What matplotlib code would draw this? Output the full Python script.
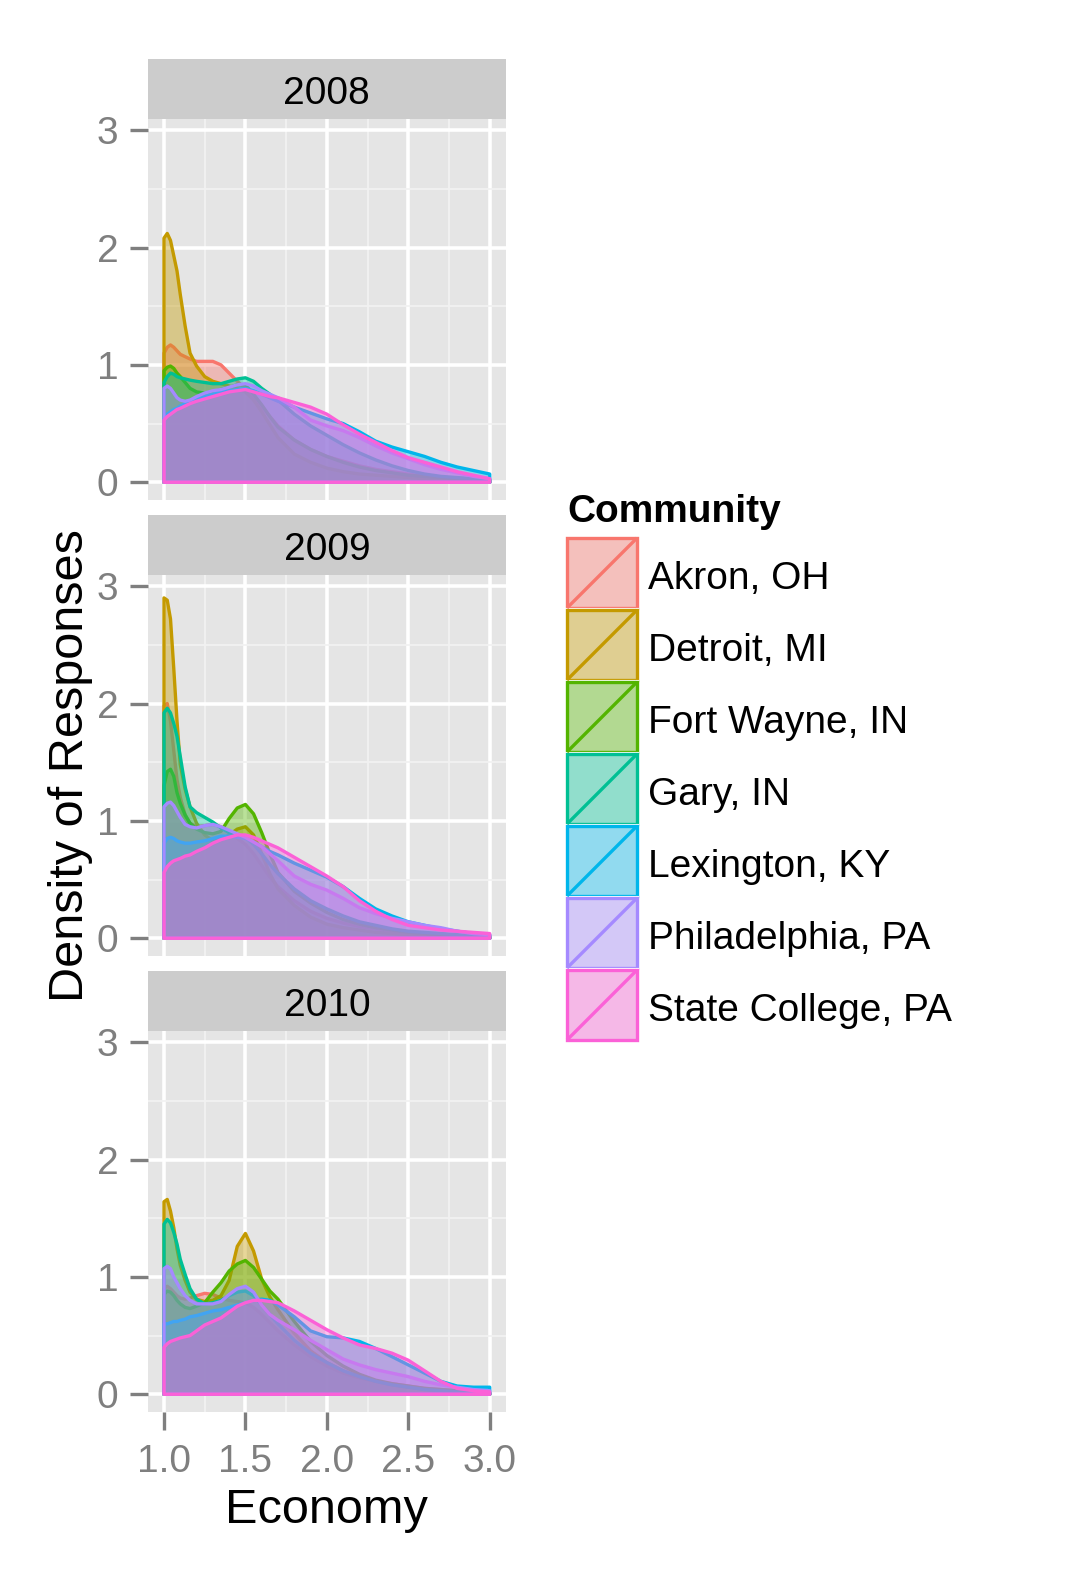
import numpy as np
import matplotlib
matplotlib.use("Agg")
import matplotlib.pyplot as plt
from matplotlib.colors import to_rgba
from matplotlib.patches import Rectangle
from matplotlib.ticker import MultipleLocator

plt.rcParams['font.family'] = ['Liberation Sans', 'DejaVu Sans']

# ---------------- data ----------------
years = ["2008", "2009", "2010"]
communities = ["Akron, OH", "Detroit, MI", "Fort Wayne, IN", "Gary, IN",
               "Lexington, KY", "Philadelphia, PA", "State College, PA"]
colors = ["#F8766D", "#C49A00", "#53B400", "#00C094", "#00B6EB", "#A58AFF", "#FB61D7"]

economy = [1.00, 1.02, 1.04, 1.06, 1.08, 1.10, 1.13, 1.16, 1.20, 1.25, 1.30, 1.35,
           1.40, 1.45, 1.50, 1.55, 1.60, 1.65, 1.70, 1.80, 1.90, 2.00, 2.10, 2.20,
           2.30, 2.40, 2.50, 2.60, 2.70, 2.80, 2.90, 3.00]

density_2008 = [
    [1.10,1.15,1.17,1.15,1.12,1.09,1.07,1.05,1.03,1.03,1.03,1.00,0.93,0.86,0.80,0.72,0.64,0.56,0.48,0.36,0.28,0.22,0.18,0.14,0.11,0.09,0.07,0.05,0.04,0.03,0.02,0.01],
    [2.08,2.12,2.06,1.93,1.80,1.60,1.33,1.10,0.99,0.90,0.86,0.84,0.82,0.80,0.77,0.70,0.60,0.49,0.38,0.24,0.17,0.12,0.09,0.07,0.06,0.05,0.04,0.03,0.02,0.02,0.01,0.01],
    [0.95,0.98,0.99,0.97,0.93,0.90,0.85,0.80,0.77,0.76,0.77,0.79,0.81,0.83,0.83,0.75,0.66,0.56,0.47,0.36,0.28,0.22,0.17,0.13,0.10,0.08,0.06,0.05,0.04,0.03,0.02,0.02],
    [0.85,0.90,0.93,0.92,0.90,0.89,0.88,0.87,0.86,0.85,0.84,0.84,0.86,0.88,0.89,0.86,0.80,0.75,0.70,0.58,0.48,0.40,0.32,0.25,0.19,0.14,0.10,0.07,0.05,0.04,0.03,0.02],
    [0.55,0.58,0.60,0.62,0.63,0.65,0.67,0.69,0.71,0.73,0.75,0.77,0.78,0.79,0.80,0.78,0.75,0.72,0.69,0.64,0.59,0.54,0.50,0.43,0.35,0.30,0.26,0.22,0.17,0.13,0.10,0.07],
    [0.80,0.82,0.80,0.76,0.72,0.70,0.69,0.70,0.73,0.76,0.78,0.79,0.81,0.83,0.84,0.82,0.78,0.75,0.72,0.64,0.53,0.48,0.44,0.38,0.31,0.25,0.20,0.15,0.11,0.08,0.05,0.03],
    [0.53,0.56,0.58,0.60,0.62,0.63,0.65,0.67,0.69,0.71,0.73,0.75,0.77,0.78,0.79,0.77,0.75,0.73,0.72,0.68,0.64,0.58,0.49,0.41,0.34,0.27,0.21,0.17,0.13,0.09,0.06,0.03],
]
density_2009 = [
    [1.98,2.00,1.85,1.60,1.35,1.20,1.05,0.98,0.95,0.96,0.97,0.95,0.90,0.85,0.80,0.72,0.62,0.52,0.44,0.32,0.23,0.17,0.13,0.10,0.08,0.06,0.05,0.04,0.03,0.02,0.02,0.01],
    [2.90,2.88,2.72,2.30,1.85,1.48,1.27,1.12,0.98,0.88,0.83,0.84,0.88,0.93,0.95,0.88,0.72,0.55,0.42,0.28,0.18,0.12,0.09,0.07,0.05,0.04,0.03,0.02,0.02,0.01,0.01,0.01],
    [1.30,1.42,1.44,1.38,1.24,1.15,1.05,0.98,0.93,0.90,0.89,0.91,1.02,1.11,1.14,1.06,0.90,0.72,0.56,0.40,0.30,0.22,0.16,0.12,0.09,0.07,0.05,0.04,0.03,0.02,0.02,0.01],
    [1.92,1.96,1.92,1.83,1.72,1.55,1.29,1.12,1.07,1.03,0.99,0.94,0.90,0.88,0.86,0.80,0.72,0.63,0.55,0.42,0.32,0.25,0.19,0.14,0.11,0.08,0.06,0.05,0.04,0.03,0.02,0.02],
    [0.81,0.85,0.86,0.85,0.83,0.82,0.81,0.81,0.82,0.83,0.85,0.87,0.87,0.86,0.85,0.82,0.78,0.74,0.71,0.64,0.58,0.52,0.44,0.34,0.25,0.19,0.14,0.11,0.08,0.06,0.04,0.03],
    [1.12,1.15,1.16,1.13,1.08,1.03,0.97,0.95,0.94,0.96,0.97,0.95,0.92,0.89,0.86,0.82,0.78,0.72,0.66,0.53,0.46,0.41,0.34,0.26,0.21,0.17,0.14,0.11,0.09,0.06,0.04,0.03],
    [0.56,0.61,0.64,0.66,0.67,0.68,0.70,0.71,0.74,0.77,0.81,0.84,0.86,0.88,0.88,0.86,0.83,0.80,0.77,0.69,0.61,0.53,0.44,0.32,0.23,0.16,0.11,0.09,0.07,0.06,0.05,0.04],
]
density_2010 = [
    [0.90,0.92,0.90,0.87,0.84,0.82,0.81,0.82,0.84,0.86,0.85,0.82,0.80,0.79,0.78,0.74,0.68,0.61,0.54,0.42,0.32,0.24,0.18,0.14,0.11,0.09,0.07,0.05,0.04,0.03,0.02,0.01],
    [1.64,1.66,1.56,1.42,1.24,1.10,0.97,0.87,0.81,0.79,0.80,0.84,0.97,1.26,1.37,1.22,0.98,0.83,0.72,0.52,0.37,0.27,0.20,0.15,0.11,0.08,0.06,0.04,0.03,0.02,0.02,0.01],
    [0.85,0.88,0.87,0.84,0.80,0.77,0.74,0.73,0.75,0.78,0.87,0.95,1.05,1.11,1.14,1.08,0.98,0.88,0.81,0.62,0.45,0.33,0.24,0.17,0.12,0.09,0.07,0.05,0.04,0.03,0.02,0.01],
    [1.45,1.49,1.46,1.38,1.28,1.15,1.02,0.90,0.81,0.77,0.78,0.80,0.84,0.87,0.88,0.84,0.76,0.68,0.60,0.46,0.35,0.27,0.20,0.15,0.11,0.08,0.06,0.04,0.03,0.02,0.02,0.01],
    [0.60,0.60,0.61,0.62,0.62,0.63,0.64,0.66,0.67,0.69,0.71,0.72,0.74,0.76,0.78,0.80,0.81,0.80,0.76,0.66,0.54,0.49,0.48,0.45,0.39,0.32,0.25,0.18,0.11,0.07,0.06,0.06],
    [1.07,1.09,1.07,1.00,0.95,0.90,0.84,0.80,0.77,0.77,0.77,0.79,0.85,0.90,0.92,0.87,0.76,0.68,0.63,0.55,0.46,0.38,0.30,0.25,0.21,0.18,0.15,0.11,0.08,0.06,0.04,0.03],
    [0.40,0.43,0.45,0.46,0.47,0.48,0.49,0.50,0.54,0.59,0.62,0.65,0.70,0.75,0.78,0.80,0.80,0.79,0.78,0.71,0.63,0.55,0.48,0.42,0.39,0.35,0.29,0.20,0.11,0.05,0.03,0.02],
]
densities = [density_2008, density_2009, density_2010]

x_ticks = [1.0, 1.5, 2.0, 2.5, 3.0]
x_tick_labels = ["1.0", "1.5", "2.0", "2.5", "3.0"]
y_ticks = [0, 1, 2, 3]

# ---------------- layout ----------------
W, H = 1080, 1569
fig = plt.figure(figsize=(W / 100, H / 100), dpi=100)
fig.patch.set_facecolor("white")

def fx(px):
    return px / W

def fy(px):
    return 1 - px / H

PL, PR = 147.7, 506.0
panel_tops = [119.0, 575.0, 1031.0]
PH = 380.5
SH = 60.0
TXT = 28
GREY_TXT = "#7F7F7F"

x = np.array(economy)
for i, (yr, dens) in enumerate(zip(years, densities)):
    top = panel_tops[i]
    ax = fig.add_axes([fx(PL), fy(top + PH), (PR - PL) / W, PH / H])
    ax.set_facecolor("#E5E5E5")
    ax.set_xlim(0.9, 3.1)
    ax.set_ylim(-0.147, 3.095)
    ax.set_axisbelow(True)
    ax.xaxis.set_major_locator(MultipleLocator(0.5))
    ax.xaxis.set_minor_locator(MultipleLocator(0.25))
    ax.yaxis.set_major_locator(MultipleLocator(1))
    ax.yaxis.set_minor_locator(MultipleLocator(0.5))
    ax.grid(which="major", color="white", lw=2.6)
    ax.grid(which="minor", color="#F2F2F2", lw=1.3)
    for s in ax.spines.values():
        s.set_visible(False)
    ax.set_yticks(y_ticks)
    ax.set_yticklabels([str(v) for v in y_ticks])
    ax.tick_params(axis="y", which="major", direction="out", length=13, width=2.4,
                   color=GREY_TXT, labelcolor=GREY_TXT, labelsize=TXT, pad=8)
    ax.tick_params(which="minor", length=0)
    if i == 2:
        ax.set_xticks(x_ticks)
        ax.set_xticklabels(x_tick_labels)
        ax.tick_params(axis="x", which="major", direction="out", length=13, width=2.4,
                       color=GREY_TXT, labelcolor=GREY_TXT, labelsize=TXT, pad=10.5)
    else:
        ax.tick_params(axis="x", which="major", length=0, labelbottom=False)

    for c, col, yv in zip(communities, colors, dens):
        xs = np.r_[x[0], x, x[-1]]
        ys = np.r_[0.0, np.array(yv), 0.0]
        ax.fill(xs, ys, facecolor=to_rgba(col, 0.4), edgecolor=col, lw=2.4,
                joinstyle="round", zorder=3)

    # strip
    sax = fig.add_axes([fx(PL), fy(top), (PR - PL) / W, SH / H])
    sax.set_facecolor("#CCCCCC")
    sax.set_xticks([]); sax.set_yticks([])
    for s in sax.spines.values():
        s.set_visible(False)
    sax.text(0.5, 0.41, yr, ha="center", va="center", fontsize=TXT, color="black",
             transform=sax.transAxes)

# axis titles
fig.text(fx((PL + PR) / 2), fy(1523), "Economy", ha="center", va="baseline",
         fontsize=35, color="black")
fig.text(fx(83), fy((panel_tops[0] + panel_tops[2] + PH) / 2), "Density of Responses",
         ha="center", va="baseline", rotation=90, fontsize=35, color="black",
         rotation_mode="anchor")

# legend
lax = fig.add_axes([0, 0, 1, 1])
lax.set_xlim(0, W)
lax.set_ylim(H, 0)
lax.axis("off")
lax.text(567, 522, "Community", ha="left", va="baseline", fontsize=TXT,
         fontweight="bold", color="black")
kx0, kx1 = 566, 638
ktop, kh = 537, 72
for j, (c, col) in enumerate(zip(communities, colors)):
    y0 = ktop + j * kh
    lax.add_patch(Rectangle((kx0, y0), kx1 - kx0, kh, facecolor="#F2F2F2",
                            edgecolor="white", lw=1.5))
    lax.add_patch(Rectangle((kx0 + 1, y0 + 1), kx1 - kx0 - 2, kh - 2,
                            facecolor=to_rgba(col, 0.4), edgecolor=col, lw=2.4))
    lax.plot([kx0 + 1, kx1 - 1], [y0 + kh - 1, y0 + 1], color=col, lw=2.4,
             solid_capstyle="butt")
    lax.text(648, y0 + kh / 2 + 6, c, ha="left", va="center", fontsize=TXT,
             color="black")

fig.savefig("out.png", dpi=100, facecolor="white")
